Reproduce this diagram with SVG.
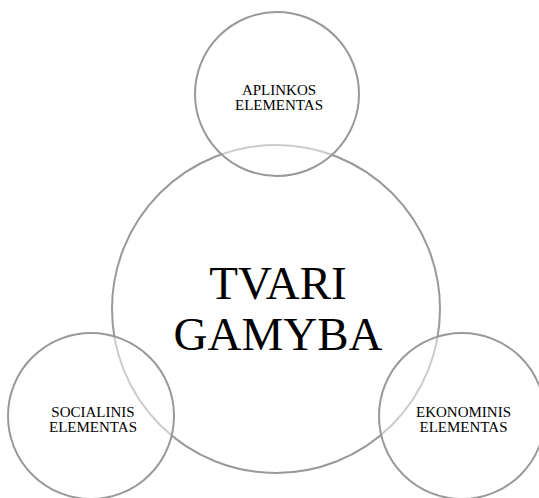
<svg xmlns="http://www.w3.org/2000/svg" width="539" height="498" viewBox="0 0 539 498">
<style>
.c{stroke:#999999;stroke-width:2;}
.big{fill:#ffffff;fill-opacity:0.5;}
.small{fill:#ffffff;fill-opacity:0.5;}
.t{font-family:"Liberation Serif","Times New Roman",serif;fill:#000000;text-anchor:middle;}
.s{font-size:15px;}
.l{font-size:47px;}
</style>
<rect x="0" y="0" width="539" height="498" fill="#ffffff"/>
<g id="tvari-gamyba">
<circle class="c big" cx="276" cy="309" r="164"/>
<text class="t l" x="278" y="299">TVARI</text>
<text class="t l" x="278" y="350">GAMYBA</text>
</g>
<g id="aplinkos">
<circle class="c small" cx="277" cy="94" r="82"/>
<text class="t s" x="279" y="94.5">APLINKOS</text>
<text class="t s" x="279" y="109.5">ELEMENTAS</text>
</g>
<g id="socialinis">
<circle class="c small" cx="91" cy="416" r="83"/>
<text class="t s" x="93" y="417">SOCIALINIS</text>
<text class="t s" x="93" y="432">ELEMENTAS</text>
</g>
<g id="ekonominis">
<circle class="c small" cx="462" cy="416" r="83"/>
<text class="t s" x="463.5" y="417">EKONOMINIS</text>
<text class="t s" x="463.5" y="432">ELEMENTAS</text>
</g>
</svg>
